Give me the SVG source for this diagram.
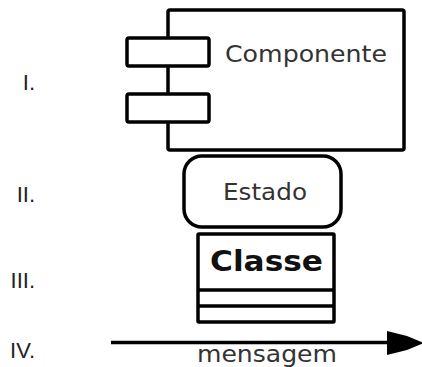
<svg xmlns="http://www.w3.org/2000/svg" width="422" height="367" viewBox="0 0 422 367">
<style>
.box{fill:#fff;stroke:#000;stroke-width:3.5;stroke-linejoin:round}
.lbl{font-family:"DejaVu Sans",sans-serif;fill:#333}
.num{font-family:"Liberation Sans",Arial,sans-serif;font-size:22px;fill:#222;text-anchor:end}
</style>
<rect width="422" height="367" fill="#fff"/>
<g id="labels">
<text class="num" x="35" y="90">I.</text>
<text class="num" x="35" y="201.5">II.</text>
<text class="num" x="35" y="287.5">III.</text>
<text class="num" x="35" y="358">IV.</text>
</g>
<g id="componente">
<rect class="box" x="168" y="10" width="236" height="140" rx="2"/>
<rect class="box" x="127" y="38" width="82" height="28" rx="2"/>
<rect class="box" x="127" y="94" width="82" height="28" rx="2"/>
<text class="lbl" x="225" y="62" font-size="23" textLength="162" lengthAdjust="spacingAndGlyphs">Componente</text>
</g>
<g id="estado">
<rect class="box" x="184" y="156" width="157" height="71" rx="18"/>
<text class="lbl" x="223" y="200" font-size="23" textLength="84" lengthAdjust="spacingAndGlyphs">Estado</text>
</g>
<g id="classe">
<rect class="box" x="198" y="234" width="136" height="88" rx="1"/>
<line x1="198" y1="290" x2="334" y2="290" stroke="#000" stroke-width="3.5"/>
<line x1="198" y1="306" x2="334" y2="306" stroke="#000" stroke-width="3.5"/>
<text x="210" y="271" font-family="DejaVu Sans,sans-serif" font-weight="bold" font-size="29" fill="#111" textLength="113" lengthAdjust="spacingAndGlyphs">Classe</text>
</g>
<g id="connectors">
<line x1="111" y1="342.5" x2="390" y2="342.5" stroke="#000" stroke-width="3.5"/>
<path d="M387,331 L407,336 L424,343 L407,350 L387,355 Z" fill="#000"/>
<text class="lbl" x="197" y="362" font-size="23" textLength="140" lengthAdjust="spacingAndGlyphs">mensagem</text>
</g>
</svg>
